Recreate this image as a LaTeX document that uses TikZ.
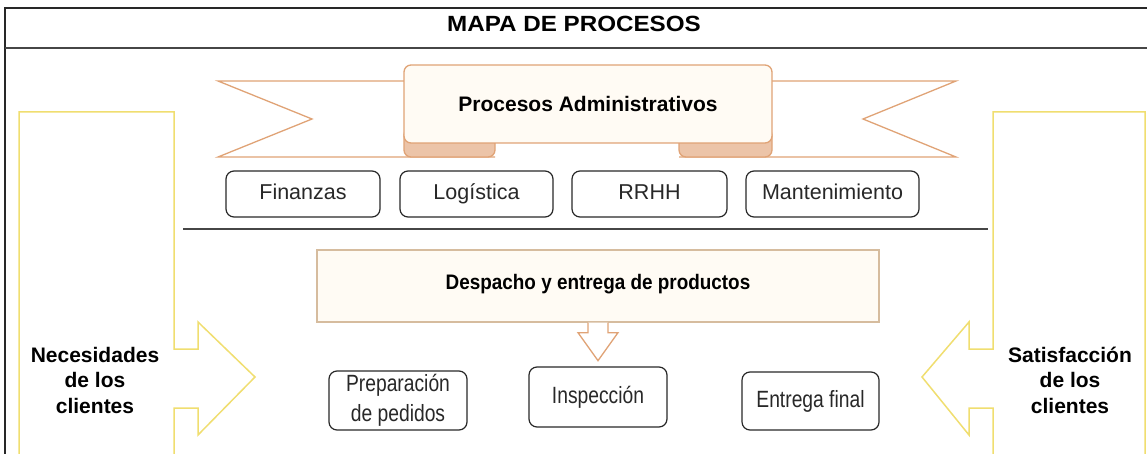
\documentclass[tikz,border=0pt]{standalone}
\usepackage{fontspec}
\setmainfont{Liberation Sans}
\newfontfamily\narrowfont[FakeStretch=0.9]{Liberation Sans}
\newfontfamily\slimfont[FakeStretch=0.82]{Liberation Sans}
\newfontfamily\widefont[FakeStretch=1.1]{Liberation Sans}
\usepackage{xcolor}
\usepackage{tikz}
\definecolor{mpBlack}{RGB}{40, 40, 40}
\definecolor{mpGray}{RGB}{70, 70, 70}
\definecolor{mpText}{RGB}{40, 40, 40}
\definecolor{mpOrange}{RGB}{224, 163, 118}
\definecolor{mpTan}{RGB}{236, 196, 168}
\definecolor{mpCream}{RGB}{255, 251, 244}
\definecolor{mpSand}{RGB}{214, 188, 158}
\definecolor{mpYellow}{RGB}{240, 222, 112}
\tikzset{
    base/.style={
        font=\fontsize{21}{25.5}\selectfont,
        align=center,
        inner sep=0pt
    },
    heading/.style={
        base,
        font=\fontsize{21}{25.5}\selectfont\bfseries,
        text=black
    },
    unit/.style={
        base,
        font=\fontsize{21.5}{25.5}\selectfont,
        rectangle,
        rounded corners=8pt,
        draw=mpBlack,
        line width=1.2pt,
        fill=white,
        text=mpText,
        minimum height=46pt,
        text height=15pt,
        text depth=4.5pt
    },
    task/.style={
        base,
        font=\slimfont\fontsize{23.5}{30}\selectfont,
        rectangle,
        rounded corners=8pt,
        draw=mpBlack,
        line width=1.2pt,
        fill=white,
        text=mpText,
        minimum width=138pt
    },
    ribbon/.style={
        draw=mpOrange,
        line width=1.3pt
    },
    client/.style={
        draw=mpYellow,
        line width=1.5pt,
        fill=white
    },
    rule/.style={
        draw=mpGray,
        line width=1.5pt
    }
}

\begin{document}
\begin{tikzpicture}[x=1pt, y=-1pt]
  \useasboundingbox (0,0) rectangle (1147,454);
  \clip (0,0) rectangle (1147,454);

  % Frame and title
  \draw[line width=2.5pt, mpBlack] (5,456) -- (5,8) -- (1150,8);
  \draw[rule] (5,48) -- (1150,48);
  \node[heading, font=\widefont\fontsize{22}{26}\selectfont\bfseries] (title) at (574,24) {MAPA DE PROCESOS};

  % Customer side shapes
  \draw[client] (19,460) -- (19,112) -- (174,112) -- (174,349) -- (198,349) -- (198,322) -- (255,377) -- (198,435) -- (198,408) -- (174,408) -- (174,460);
  \draw[client] (1145,460) -- (1145,112) -- (993,112) -- (993,349) -- (969,349) -- (969,322) -- (922,377) -- (969,435) -- (969,408) -- (993,408) -- (993,460);
  \node[heading] (needs) at (95,380) {Necesidades\\de los\\clientes};
  \node[heading] (satisf) at (1070,380) {Satisfacción\\de los\\clientes};

  % Ribbon
  \draw[ribbon, fill=white] (495,157) -- (218,157) -- (312,119) -- (218,81) -- (404,81);
  \draw[ribbon, fill=white] (679,157) -- (956,157) -- (863,119) -- (956,81) -- (772,81);
  \draw[ribbon, fill=mpTan, rounded corners=7pt] (404,128) rectangle (495,157);
  \draw[ribbon, fill=mpTan, rounded corners=7pt] (679,128) rectangle (772,157);
  \node[heading, ribbon, fill=mpCream, rounded corners=7pt, minimum width=368pt, minimum height=78pt] (admin) at (588,104) {Procesos Administrativos};

  % Support processes
  \node[unit, minimum width=154pt] (fin) at (303,194) {Finanzas};
  \node[unit, minimum width=153pt] (log) at (476.5,194) {Logística};
  \node[unit, minimum width=155pt] (rrhh) at (649.5,194) {RRHH};
  \node[unit, minimum width=173pt] (mant) at (832.5,194) {Mantenimiento};

  \draw[rule] (183,229) -- (988,229);

  % Core process
  \node[heading, font=\narrowfont\fontsize{21}{25.5}\selectfont\bfseries, draw=mpSand, line width=1.3pt, fill=mpCream, minimum width=562pt, minimum height=72pt, text height=11pt, text depth=4.5pt] (desp) at (598,286) {Despacho y entrega de productos};
  \draw[ribbon, fill=white] (desp.south) ++(-10,0) -- ++(0,10) -- ++(-10,0) -- ++(20,28) -- ++(20,-28) -- ++(-10,0) -- ++(0,-10);

  \node[task, minimum height=59pt] (prep) at (398,400.5) {Preparación\\de pedidos};
  \node[task, minimum height=60pt] (insp) at (598,397) {Inspección};
  \node[task, minimum width=137pt, minimum height=58pt] (entr) at (810.5,401) {Entrega final};
\end{tikzpicture}
\end{document}
